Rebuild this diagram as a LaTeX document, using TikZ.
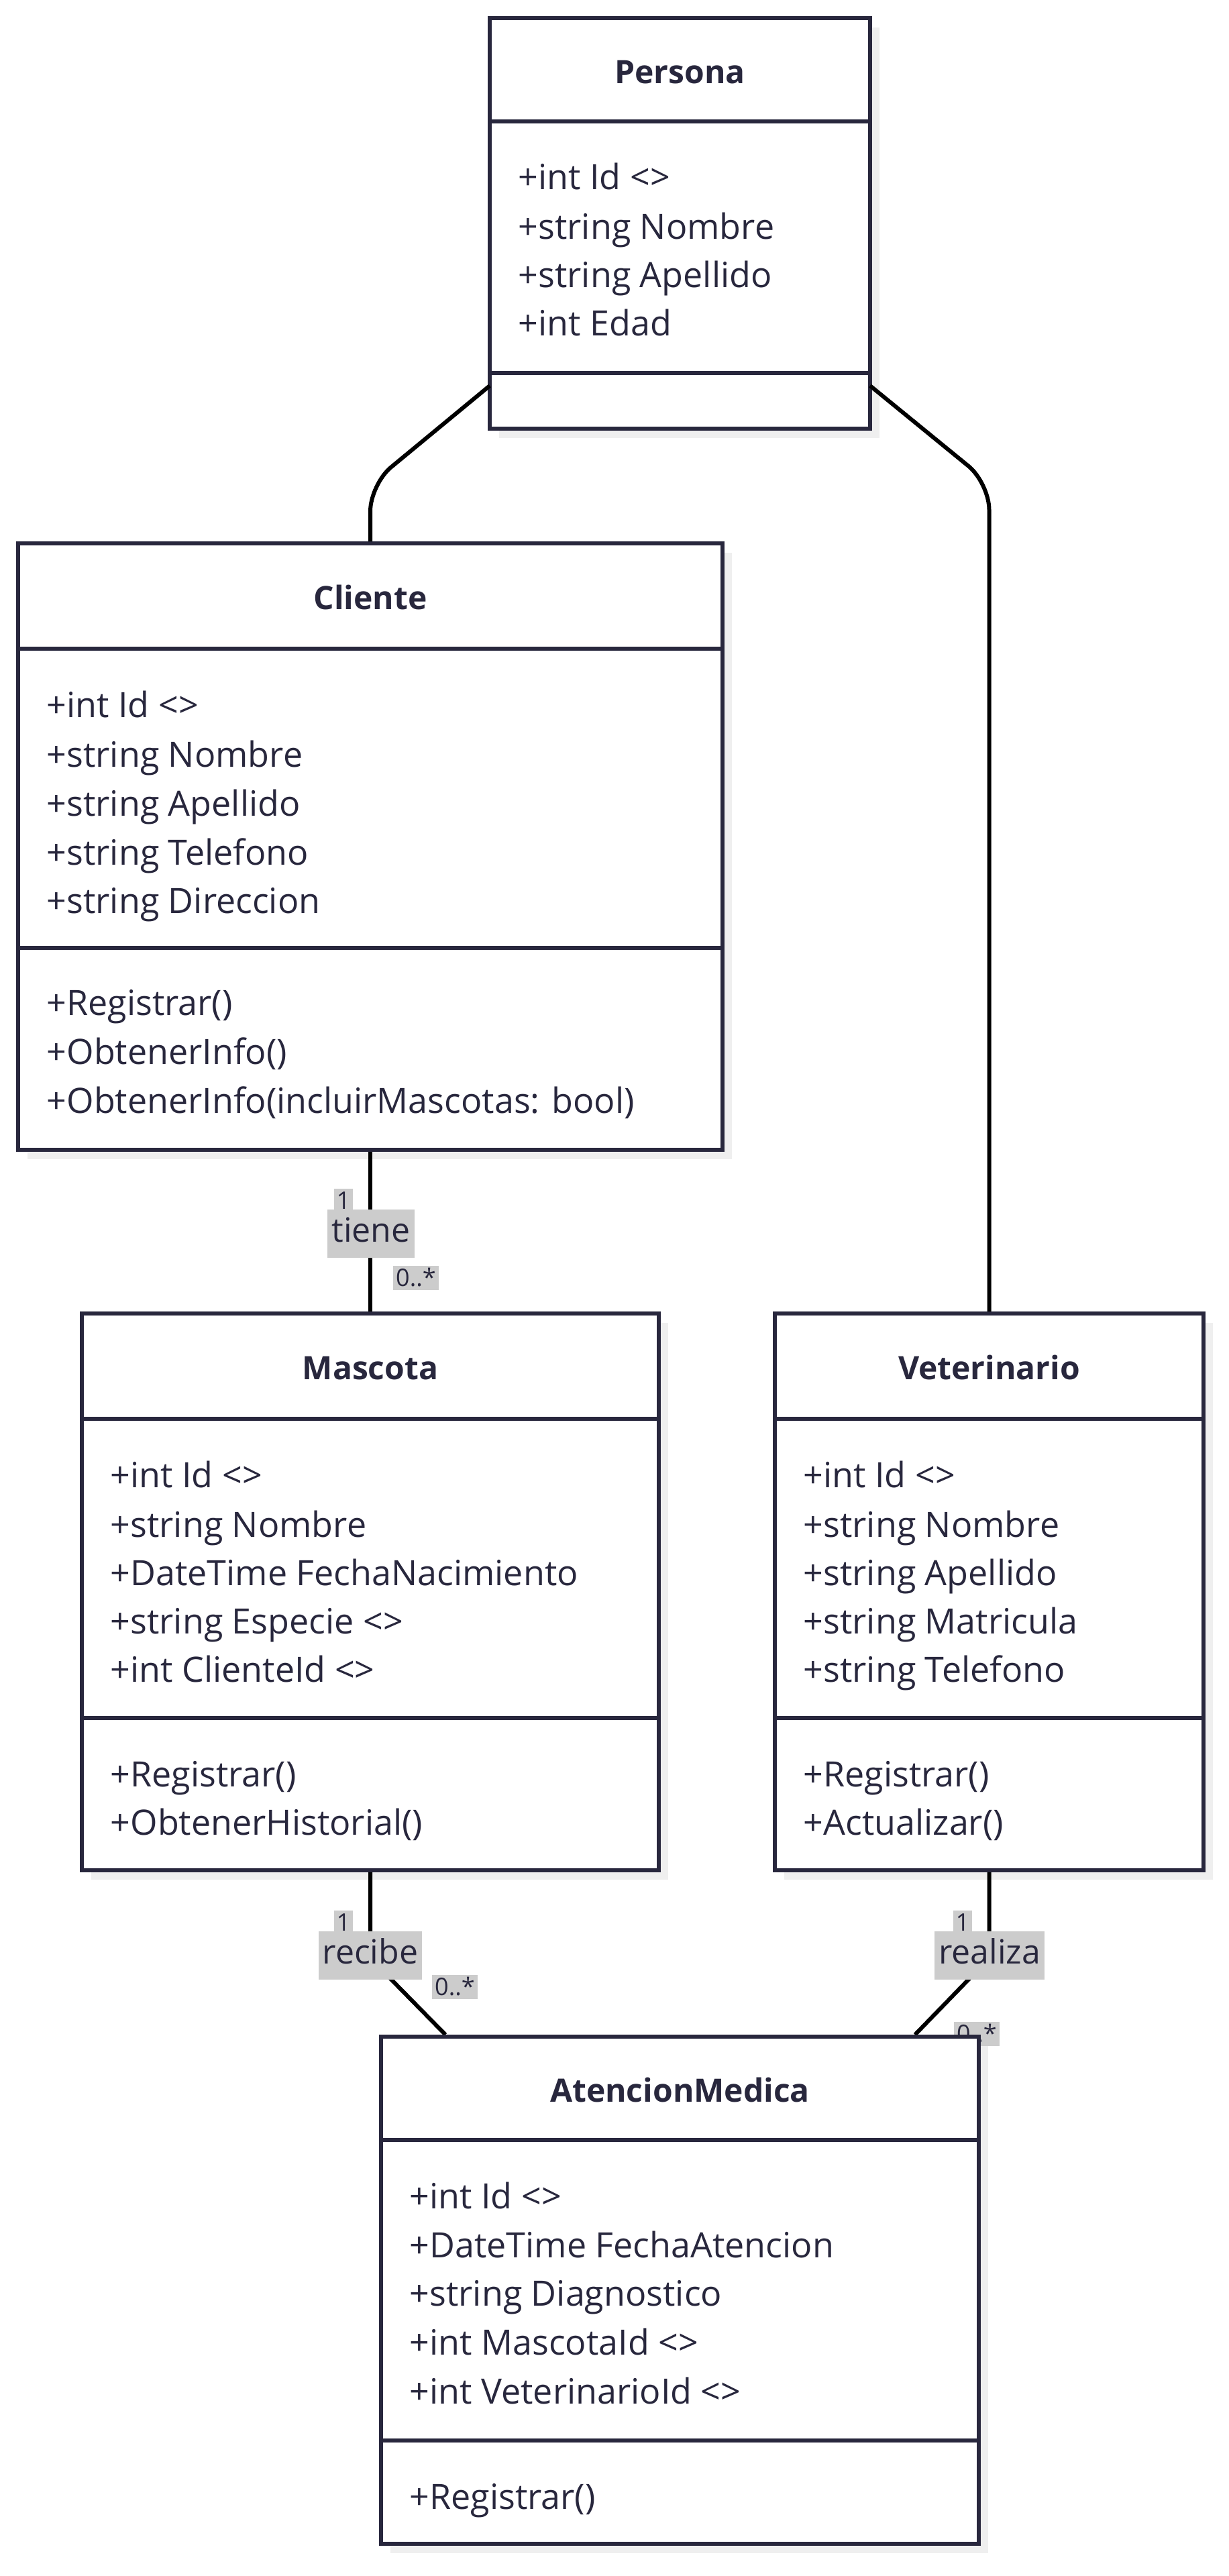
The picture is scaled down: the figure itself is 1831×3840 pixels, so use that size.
\documentclass[tikz,border=0pt]{standalone}
\usepackage{fontspec}
\setmainfont{Open Sans}
\usetikzlibrary{fit,shadows}
\definecolor{ink}{HTML}{28273D}
\definecolor{lblbg}{HTML}{CCCCCC}
\definecolor{shadowc}{HTML}{EFEFEF}
\pgfdeclarelayer{bg}
\pgfdeclarelayer{lbl}
\pgfdeclarelayer{front}
\pgfsetlayers{bg,main,lbl,front}
\tikzset{
 classbox/.style={draw=ink, line width=1.5pt, fill=white, inner sep=0pt,
   drop shadow={shadow xshift=3.5pt, shadow yshift=-3.5pt, fill=shadowc, opacity=1}},
 sepline/.style={draw=ink, line width=1.5pt},
 ctitle/.style={font=\bfseries\fontsize{12}{14}\selectfont, text=ink, inner sep=0pt, text height=8.4pt, text depth=0pt},
 member/.style={font=\fontsize{13}{15}\selectfont, text=ink, inner sep=0pt, anchor=west, text height=9pt, text depth=0pt},
 conn/.style={draw=black, line width=1.5pt, rounded corners=10pt},
 rolelbl/.style={fill=lblbg, text=ink, font=\fontsize{12.5}{14}\selectfont, inner xsep=1.5pt, inner ysep=0pt, text height=9pt, text depth=3pt, minimum height=18pt},
 multlbl/.style={fill=lblbg, text=ink, font=\fontsize{9}{10}\selectfont, inner xsep=1pt, inner ysep=1pt, text height=6.5pt, text depth=0.5pt},
}
\begin{document}
\begin{tikzpicture}[x=0.25pt, y=-0.25pt]
\useasboundingbox (0,0) rectangle (1831,3840);
\begin{pgfonlayer}{bg}
\fill[white] (0,0) rectangle (1831,3840);
\end{pgfonlayer}

% Persona
\node[classbox, fit={(730,27)(1297,639)}] (persona) {};
\draw[sepline] (730,181) -- (1297,181);
\draw[sepline] (730,556) -- (1297,556);
\node[ctitle] (personaT) at (1013.5,108) {Persona};
\node[member] (p1) at (772,265) {+int Id <>};
\node[member] (p2) at (772,339) {+string Nombre};
\node[member] (p3) at (772,411) {+string Apellido};
\node[member] (p4) at (772,483) {+int Edad};

% Cliente
\node[classbox, fit={(27,810)(1077,1714)}] (cliente) {};
\draw[sepline] (27,967) -- (1077,967);
\draw[sepline] (27,1413) -- (1077,1413);
\node[ctitle] (clienteT) at (552,892) {Cliente};
\node[member] (c1) at (69,1051) {+int Id <>};
\node[member] (c2) at (69,1125) {+string Nombre};
\node[member] (c3) at (69,1198) {+string Apellido};
\node[member] (c4) at (69,1271) {+string Telefono};
\node[member] (c5) at (69,1343) {+string Direccion};
\node[member] (c6) at (69,1495) {+Registrar()};
\node[member] (c7) at (69,1568) {+ObtenerInfo()};
\node[member] (c8) at (69,1641) {+ObtenerInfo(incluirMascotas: bool)};

% Mascota
\node[classbox, fit={(122,1958)(982,2788)}] (mascota) {};
\draw[sepline] (122,2115) -- (982,2115);
\draw[sepline] (122,2561) -- (982,2561);
\node[ctitle] (mascotaT) at (552,2040) {Mascota};
\node[member] (m1) at (164,2199) {+int Id <>};
\node[member] (m2) at (164,2273) {+string Nombre};
\node[member] (m3) at (164,2345) {+DateTime FechaNacimiento};
\node[member] (m4) at (164,2417) {+string Especie <>};
\node[member] (m5) at (164,2489) {+int ClienteId <>};
\node[member] (m6) at (164,2645) {+Registrar()};
\node[member] (m7) at (164,2717) {+ObtenerHistorial()};

% Veterinario
\node[classbox, fit={(1155,1958)(1794,2788)}] (vet) {};
\draw[sepline] (1155,2115) -- (1794,2115);
\draw[sepline] (1155,2561) -- (1794,2561);
\node[ctitle] (vetT) at (1474.5,2040) {Veterinario};
\node[member] (v1) at (1197,2199) {+int Id <>};
\node[member] (v2) at (1197,2273) {+string Nombre};
\node[member] (v3) at (1197,2345) {+string Apellido};
\node[member] (v4) at (1197,2417) {+string Matricula};
\node[member] (v5) at (1197,2489) {+string Telefono};
\node[member] (v6) at (1197,2645) {+Registrar()};
\node[member] (v7) at (1197,2717) {+Actualizar()};

% AtencionMedica (drawn in front of the labels)
\begin{pgfonlayer}{front}
\node[classbox, fit={(568,3036)(1459,3792)}] (aten) {};
\draw[sepline] (568,3190) -- (1459,3190);
\draw[sepline] (568,3638) -- (1459,3638);
\node[ctitle] (atenT) at (1013.5,3117) {AtencionMedica};
\node[member] (a1) at (610,3274) {+int Id <>};
\node[member] (a2) at (610,3347) {+DateTime FechaAtencion};
\node[member] (a3) at (610,3419) {+string Diagnostico};
\node[member] (a4) at (610,3492) {+int MascotaId <>};
\node[member] (a5) at (610,3565) {+int VeterinarioId <>};
\node[member] (a6) at (610,3722) {+Registrar()};
\end{pgfonlayer}

% connectors
\coordinate (pl) at (730,575);
\coordinate (pr) at (1297,575);
\draw[conn] (pl) -- (552,722) -- (cliente.north);
\draw[conn] (pr) -- (1474.5,720) -- (vet.north);
\draw[conn] (cliente.south) -- (mascota.north);
\draw[conn] (mascota.south) -- (552,2919) -- (aten.north west -| 664,0);
\draw[conn] (vet.south) -- (1474.5,2919) -- (aten.north west -| 1364,0);

% labels
\begin{pgfonlayer}{lbl}
\node[rolelbl] (tiene) at (553,1839) {tiene};
\node[multlbl] (tiene1) at (512,1790) {1};
\node[multlbl] (tieneN) at (620,1905) {0..*};
\node[rolelbl] (recibe) at (552,2915) {recibe};
\node[multlbl] (recibe1) at (512,2866) {1};
\node[multlbl] (recibeN) at (678,2962) {0..*};
\node[rolelbl] (realiza) at (1475,2915) {realiza};
\node[multlbl] (realiza1) at (1435,2866) {1};
\node[multlbl] (realizaN) at (1456,3032) {0..*};
\end{pgfonlayer}
\end{tikzpicture}
\end{document}
